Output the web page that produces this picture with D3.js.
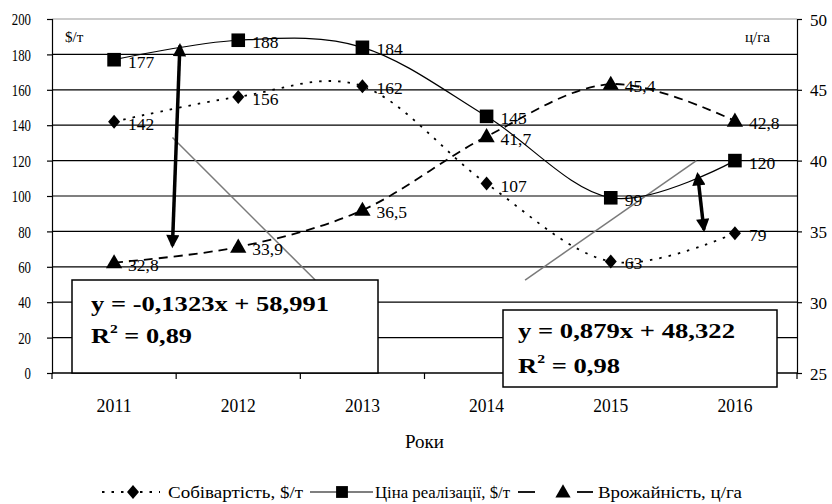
<!DOCTYPE html>
<html>
<head>
<meta charset="utf-8">
<script src="https://cdn.jsdelivr.net/npm/d3@7"></script>
<style>
  html, body { margin: 0; padding: 0; background: #fff; }
  svg { display: block; }
  svg text { font-family: "Liberation Serif", "Times New Roman", serif; fill: #000; }
</style>
</head>
<body>
<svg id="chart" width="832" height="504"></svg>
<script>
// Years on the category axis
const years = ["2011", "2012", "2013", "2014", "2015", "2016"];
// Cost price, $/t (left axis)
const cost = [142, 156, 162, 107, 63, 79];
// Selling price, $/t (left axis)
const price = [177, 188, 184, 145, 99, 120];
// Yield, c/ha (right axis)
const yieldVals = [32.8, 33.9, 36.5, 41.7, 45.4, 42.8];
// Axis ticks
const leftTicks = [0, 20, 40, 60, 80, 100, 120, 140, 160, 180, 200];
const rightTicks = [25, 30, 35, 40, 45, 50];
// Value labels as printed
const costLabels = ["142", "156", "162", "107", "63", "79"];
const priceLabels = ["177", "188", "184", "145", "99", "120"];
const yieldLabels = ["32,8", "33,9", "36,5", "41,7", "45,4", "42,8"];
// Linear trend lines (category index, left-axis value)
const trendLines = [
  [[0.47, 133], [1.62, 52.5]],
  [[3.31, 52.5], [4.69, 120]]
];
// Double-headed gap arrows (category index, left-axis value)
const gapArrows = [
  [[0.53, 185], [0.47, 72]],
  [[4.70, 112], [4.75, 81]]
];
// Regression equation boxes
const equations = [
  { eq: "y = -0,1323x + 58,991", r2: "0,89" },
  { eq: "y = 0,879x + 48,322", r2: "0,98" }
];
// Legend entries
const legendNames = ["Собівартість, $/т", "Ціна реалізації, $/т", "Врожайність, ц/га"];

const W = 832, H = 504;
const m = { left: 52, right: 35, top: 19, bottom: 131 };
const svg = d3.select("#chart");

const x = d3.scaleBand().domain(years).range([m.left, W - m.right]).padding(0);
const xc = d => x(d) + x.bandwidth() / 2;
const xi = d3.scaleLinear().domain([0, years.length - 1]).range([xc(years[0]), xc(years[years.length - 1])]);
const yL = d3.scaleLinear().domain([0, 200]).range([H - m.bottom, m.top]);
const yR = d3.scaleLinear().domain([25, 50]).range([H - m.bottom, m.top]);

// Horizontal gridlines
svg.append("g").selectAll("line").data(leftTicks).join("line")
  .attr("x1", m.left).attr("x2", W - m.right)
  .attr("y1", d => yL(d)).attr("y2", d => yL(d))
  .attr("stroke", d => d === 200 ? "#999" : "#000")
  .attr("stroke-width", 1.2);

// Left axis
const gL = svg.append("g").attr("transform", `translate(${m.left},0)`)
  .call(d3.axisLeft(yL).tickValues(leftTicks).tickSize(5).tickPadding(16));
// Right axis
const gR = svg.append("g").attr("transform", `translate(${W - m.right},0)`)
  .call(d3.axisRight(yR).tickValues(rightTicks).tickSize(5).tickPadding(8));
// Bottom axis with ticks at category boundaries
const gB = svg.append("g").attr("transform", `translate(0,${H - m.bottom})`)
  .call(d3.axisBottom(x).tickSize(0));
gB.selectAll(".tick").append("line")
  .attr("x1", -x.bandwidth() / 2).attr("x2", -x.bandwidth() / 2)
  .attr("y1", 0).attr("y2", 6);
gB.append("line")
  .attr("x1", W - m.right).attr("x2", W - m.right)
  .attr("y1", 0).attr("y2", 6);

[gL, gR, gB].forEach(g => {
  g.attr("font-family", null);
  g.select(".domain").attr("stroke", "#000").attr("stroke-width", 1.2);
  g.selectAll("line").attr("stroke", "#000").attr("stroke-width", 1.2);
});
gB.select(".domain").attr("d", `M${m.left},0H${W - m.right}`);

gL.selectAll("text").attr("font-size", 16).attr("dy", "0.36em")
  .attr("textLength", function () { return this.textContent.length * 6.4; })
  .attr("lengthAdjust", "spacingAndGlyphs");
gR.selectAll("text").attr("font-size", 17).attr("dy", "0.36em");
gB.selectAll("text").attr("font-size", 19).attr("y", 39).attr("dy", 0)
  .attr("textLength", 35).attr("lengthAdjust", "spacingAndGlyphs");

// Unit labels
svg.append("text").attr("x", 65).attr("y", 42).attr("font-size", 15).text("$/т");
svg.append("text").attr("x", 745).attr("y", 42).attr("font-size", 15).text("ц/га");

// Axis title
svg.append("text").attr("x", (m.left + W - m.right) / 2).attr("y", 448)
  .attr("text-anchor", "middle").attr("font-size", 19).text("Роки");

// Trend lines
svg.append("g").selectAll("line").data(trendLines).join("line")
  .attr("x1", d => xi(d[0][0])).attr("y1", d => yL(d[0][1]))
  .attr("x2", d => xi(d[1][0])).attr("y2", d => yL(d[1][1]))
  .attr("stroke", "#7a7a7a").attr("stroke-width", 1.5);

const curve = d3.curveCatmullRom.alpha(0);
const lineL = d3.line().x((d, i) => xc(years[i])).y(d => yL(d)).curve(curve);
const lineR = d3.line().x((d, i) => xc(years[i])).y(d => yR(d)).curve(curve);

const costDash = "2.5,7", yieldDash = "9,6";

// Series lines
svg.append("path").attr("d", lineL(price)).attr("fill", "none")
  .attr("stroke", "#000").attr("stroke-width", 1.2);
svg.append("path").attr("d", lineL(cost)).attr("fill", "none")
  .attr("stroke", "#000").attr("stroke-width", 1.8).attr("stroke-dasharray", costDash);
svg.append("path").attr("d", lineR(yieldVals)).attr("fill", "none")
  .attr("stroke", "#000").attr("stroke-width", 1.8).attr("stroke-dasharray", yieldDash);

// Markers
const sym = (type, size) => d3.symbol().type(type).size(size)();
const diamond = "M0,-7L6,0L0,7L-6,0Z";
const square = sym(d3.symbolSquare, 185);
const triangle = sym(d3.symbolTriangle, 115);
svg.append("g").selectAll("path").data(price).join("path")
  .attr("transform", (d, i) => `translate(${xc(years[i])},${yL(d)})`)
  .attr("d", square).attr("fill", "#000");
svg.append("g").selectAll("path").data(cost).join("path")
  .attr("transform", (d, i) => `translate(${xc(years[i])},${yL(d)})`)
  .attr("d", diamond).attr("fill", "#000");
svg.append("g").selectAll("path").data(yieldVals).join("path")
  .attr("transform", (d, i) => `translate(${xc(years[i])},${yR(d) + 1})`)
  .attr("d", triangle).attr("fill", "#000");

// Value labels
function labels(vals, texts, yScale) {
  svg.append("g").selectAll("text").data(vals).join("text")
    .attr("x", (d, i) => xc(years[i]) + 14)
    .attr("y", d => yScale(d) + 8)
    .attr("font-size", 17.5)
    .text((d, i) => texts[i]);
}
labels(price, priceLabels, yL);
labels(cost, costLabels, yL);
labels(yieldVals, yieldLabels, yR);

// Arrowheads
const defs = svg.append("defs");
defs.append("marker").attr("id", "ah").attr("viewBox", "0 0 10 10")
  .attr("refX", 8).attr("refY", 5).attr("markerWidth", 4.2).attr("markerHeight", 3.8)
  .attr("markerUnits", "strokeWidth").attr("orient", "auto-start-reverse")
  .append("path").attr("d", "M0,0L10,5L0,10Z").attr("fill", "#000");

svg.append("g").selectAll("line").data(gapArrows).join("line")
  .attr("x1", d => xi(d[0][0])).attr("y1", d => yL(d[0][1]))
  .attr("x2", d => xi(d[1][0])).attr("y2", d => yL(d[1][1]))
  .attr("stroke", "#000").attr("stroke-width", 3.5)
  .attr("marker-start", "url(#ah)").attr("marker-end", "url(#ah)");

// Equation boxes
const boxes = [
  { x: 72, y: 280, w: 306, h: 93, tx: 91, b1: 311, b2: 343, l1: 238, l2: 101 },
  { x: 503, y: 310, w: 274, h: 77, tx: 518, b1: 338, b2: 373, l1: 217, l2: 102 }
];
boxes.forEach((b, k) => {
  const g = svg.append("g");
  g.append("rect").attr("x", b.x).attr("y", b.y).attr("width", b.w).attr("height", b.h)
    .attr("fill", "#fff").attr("stroke", "#000").attr("stroke-width", 1.5);
  g.append("text").attr("x", b.tx).attr("y", b.b1).attr("font-size", 21)
    .attr("font-weight", "bold")
    .attr("textLength", b.l1).attr("lengthAdjust", "spacingAndGlyphs")
    .text(equations[k].eq);
  const t = g.append("text").attr("x", b.tx).attr("y", b.b2).attr("font-size", 22)
    .attr("font-weight", "bold")
    .attr("textLength", b.l2).attr("lengthAdjust", "spacingAndGlyphs");
  t.append("tspan").text("R");
  t.append("tspan").attr("font-size", 13).attr("dy", -10).text("2");
  t.append("tspan").attr("dy", 10).text(" = " + equations[k].r2);
});

// Legend
const lg = svg.append("g");
const ly = 492;
const legendText = [
  { x: 168, len: 135 },
  { x: 375, len: 135 },
  { x: 598, len: 144 }
];
lg.selectAll("text").data(legendNames).join("text")
  .attr("x", (d, i) => legendText[i].x).attr("y", ly + 6)
  .attr("font-size", 16)
  .attr("textLength", (d, i) => legendText[i].len).attr("lengthAdjust", "spacingAndGlyphs")
  .text(d => d);
// cost sample
lg.append("line").attr("x1", 102).attr("x2", 160).attr("y1", ly).attr("y2", ly)
  .attr("stroke", "#000").attr("stroke-width", 1.8).attr("stroke-dasharray", costDash);
lg.append("path").attr("transform", `translate(133,${ly})`).attr("d", diamond).attr("fill", "#000");
// price sample
lg.append("line").attr("x1", 310).attr("x2", 373).attr("y1", ly).attr("y2", ly)
  .attr("stroke", "#000").attr("stroke-width", 1.2);
lg.append("path").attr("transform", `translate(342,${ly})`).attr("d", sym(d3.symbolSquare, 140)).attr("fill", "#000");
// yield sample
[[518, 535], [577, 593]].forEach(s => {
  lg.append("line").attr("x1", s[0]).attr("x2", s[1]).attr("y1", ly).attr("y2", ly)
    .attr("stroke", "#000").attr("stroke-width", 1.8);
});
lg.append("path").attr("transform", `translate(563,${ly + 1})`).attr("d", sym(d3.symbolTriangle, 100)).attr("fill", "#000");
</script>
</body>
</html>
